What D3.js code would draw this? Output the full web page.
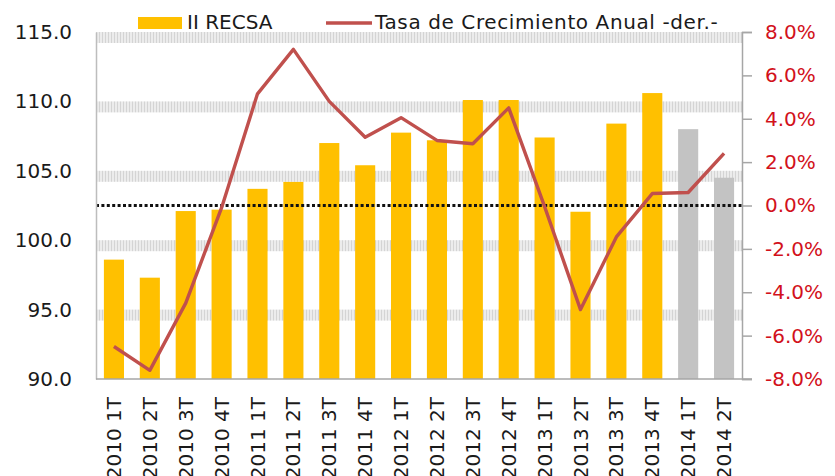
<!DOCTYPE html>
<html>
<head>
<meta charset="utf-8">
<style>
    body { margin:0; background:#fff; }
    text { font-family:"DejaVu Sans", sans-serif; }
</style>
<script src="https://d3js.org/d3.v7.min.js"></script>
</head>
<body>
<svg id="chart"></svg>
<script>
    // datos
    var periodos = ["2010 1T","2010 2T","2010 3T","2010 4T","2011 1T","2011 2T","2011 3T","2011 4T",
                    "2012 1T","2012 2T","2012 3T","2012 4T","2013 1T","2013 2T","2013 3T","2013 4T",
                    "2014 1T","2014 2T"];
    var recsa = [98.6, 97.3, 102.1, 102.2, 103.7, 104.2, 107.0, 105.4,
                 107.75, 107.2, 110.1, 110.1, 107.4, 102.05, 108.4, 110.6,
                 108.0, 104.5];
    var tasa = [-6.5, -7.6, -4.5, -0.1, 5.15, 7.2, 4.8, 3.15,
                4.05, 3.0, 2.85, 4.5, -0.05, -4.8, -1.45, 0.55,
                0.6, 2.4];
    var proyectado = ["2014 1T","2014 2T"];
    var leftTicks = [90, 95, 100, 105, 110, 115];
    var rightTicks = [-0.08, -0.06, -0.04, -0.02, 0, 0.02, 0.04, 0.06, 0.08];

    var W = 835, H = 476;
    var plot = {left:96, right:742, top:32, bottom:379};

    var svg = d3.select("#chart")
        .attr("width", W)
        .attr("height", H);

    var x = d3.scaleBand()
        .domain(periodos)
        .range([plot.left, plot.right])
        .paddingInner(0.44)
        .paddingOuter(0.22);
    var yL = d3.scaleLinear().domain([90, 115]).range([plot.bottom, plot.top]);
    var yR = d3.scaleLinear().domain([-0.08, 0.08]).range([plot.bottom, plot.top]);

    // patron rayado de las lineas de cuadricula
    var pat = svg.append("defs").append("pattern")
        .attr("id", "rayas")
        .attr("patternUnits", "userSpaceOnUse")
        .attr("width", 3).attr("height", 11);
    pat.append("rect").attr("width", 3).attr("height", 11).attr("fill", "#ececec");
    pat.append("rect").attr("width", 1).attr("height", 11).attr("fill", "#d4d4d4");

    svg.selectAll(".banda")
        .data(leftTicks.filter(function(d){ return d > 90; }))
        .enter()
        .append("rect")
        .attr("class", "banda")
        .attr("x", plot.left)
        .attr("y", function(d){ return yL(d); })
        .attr("width", plot.right - plot.left)
        .attr("height", 11)
        .attr("fill", "url(#rayas)");

    // barras
    svg.selectAll(".barra")
        .data(periodos)
        .enter()
        .append("rect")
        .attr("class", "barra")
        .attr("x", function(d){ return x(d); })
        .attr("width", x.bandwidth())
        .attr("y", function(d, i){ return yL(recsa[i]); })
        .attr("height", function(d, i){ return plot.bottom - yL(recsa[i]); })
        .attr("fill", function(d){ return proyectado.indexOf(d) >= 0 ? "#c3c3c3" : "#ffc000"; });

    // linea de 0%
    svg.append("line")
        .attr("x1", plot.left).attr("x2", plot.right)
        .attr("y1", yR(0)).attr("y2", yR(0))
        .attr("stroke", "#111")
        .attr("stroke-width", 3)
        .attr("stroke-dasharray", "3,2.4");

    // ejes
    var axisL = svg.append("g")
        .attr("transform", "translate(" + plot.left + ",0)")
        .call(d3.axisLeft(yL).tickValues(leftTicks).tickSize(0).tickPadding(24).tickFormat(d3.format(".1f")));
    axisL.select(".domain").attr("stroke", "#bdbdbd").attr("stroke-width", 1.5);
    axisL.selectAll("text").attr("font-size", 20).attr("fill", "#1a1a1a")
        .attr("font-family", "DejaVu Sans");

    var fmtPct = function(d){ return d3.format(".1%")(d).replace("\u2212", "-"); };
    var axisR = svg.append("g")
        .attr("transform", "translate(" + plot.right + ",0)")
        .call(d3.axisRight(yR).tickValues(rightTicks).tickSize(10).tickPadding(13).tickFormat(fmtPct));
    axisR.select(".domain").attr("stroke", "#a6a6a6").attr("stroke-width", 1.5);
    axisR.selectAll("line").attr("stroke", "#a6a6a6").attr("stroke-width", 1.5);
    axisR.selectAll("text").attr("font-size", 20).attr("fill", "#d2111b")
        .attr("font-family", "DejaVu Sans");

    var axisB = svg.append("g")
        .attr("transform", "translate(0," + plot.bottom + ")")
        .call(d3.axisBottom(x).tickSize(0).tickPadding(0));
    axisB.select(".domain").attr("stroke", "#a6a6a6").attr("stroke-width", 1.5)
        .attr("d", "M" + plot.left + ",0H" + (plot.right + 10));
    axisB.selectAll("text")
        .attr("font-size", 20).attr("fill", "#1a1a1a")
        .attr("font-family", "DejaVu Sans")
        .attr("text-anchor", "end")
        .attr("dy", "0.35em")
        .attr("transform", "translate(0,18) rotate(-90)");

    // linea de tasa
    var linea = d3.line()
        .x(function(d, i){ return x(periodos[i]) + x.bandwidth() / 2; })
        .y(function(d){ return yR(d / 100); });
    svg.append("path")
        .datum(tasa)
        .attr("d", linea)
        .attr("fill", "none")
        .attr("stroke", "#c0504d")
        .attr("stroke-width", 3.4)
        .attr("stroke-linejoin", "round");

    // leyenda
    var ley = svg.append("g");
    ley.append("rect").attr("x", 138).attr("y", 17).attr("width", 44).attr("height", 12).attr("fill", "#ffc000");
    ley.append("text").attr("x", 187).attr("y", 29).attr("font-size", 20).attr("fill", "#1a1a1a").text("II RECSA");
    ley.append("line").attr("x1", 326).attr("x2", 372).attr("y1", 23).attr("y2", 23)
        .attr("stroke", "#c0504d").attr("stroke-width", 3.4);
    ley.append("text").attr("x", 375).attr("y", 29).attr("font-size", 20).attr("fill", "#1a1a1a")
        .attr("letter-spacing", 0.6)
        .text("Tasa de Crecimiento Anual -der.-");
</script>
</body>
</html>
